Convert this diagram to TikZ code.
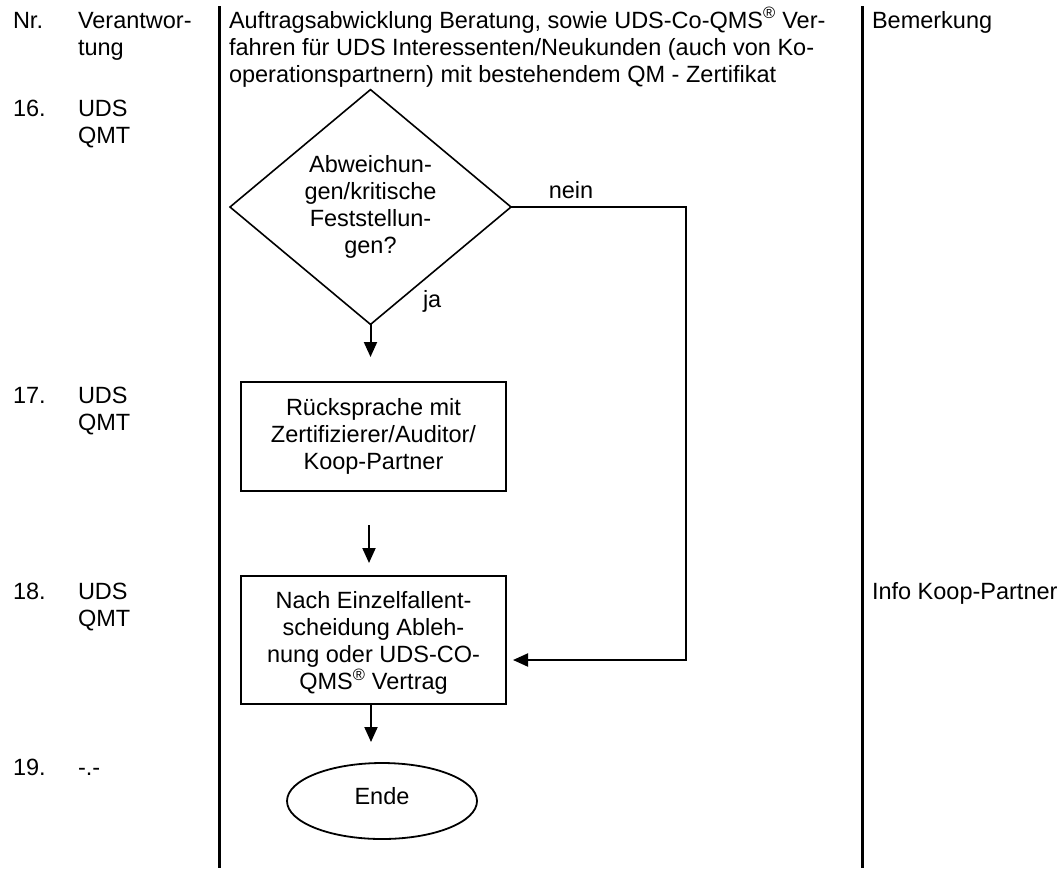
\documentclass[tikz,border=0pt]{standalone}
\usepackage{fontspec}
\setmainfont{Liberation Sans}
\usetikzlibrary{shapes.geometric,arrows.meta}
\tikzset{
  txt/.style={inner sep=0pt, outer sep=0pt, font=\fontsize{23.5}{27}\selectfont},
  colline/.style={line width=3pt},
  box/.style={draw, line width=2.2pt, rectangle, inner sep=0pt},
  decision/.style={draw, line width=1.6pt, diamond, inner sep=0pt, txt, align=center},
  terminal/.style={draw, line width=1.8pt, ellipse, inner sep=0pt, txt},
  arr/.style={line width=2pt, -{Triangle[length=15pt,width=13pt]}},
  conn/.style={line width=2pt}
}
\newcommand{\topstrut}{\rule{0pt}{22pt}}
\begin{document}
\begin{tikzpicture}[x=1pt,y=-1pt]
\useasboundingbox (0,0) rectangle (1064,868);
\fill[white] (0,0) rectangle (1064,868);

% column lines
\draw[colline] (219,6) -- (219,868);
\draw[colline] (862,6) -- (862,868);

% header
\node[txt, anchor=base west] (nr) at (13,28) {Nr.};
\node[txt, anchor=north west, align=left] (verant) at (78,6) {\topstrut Verantwor-\\tung};
\node[txt, anchor=north west, align=left] (title) at (229,6) {\topstrut Auftragsabwicklung Beratung, sowie UDS-Co-QMS\textsuperscript{®} Ver-\\fahren für UDS Interessenten/Neukunden (auch von Ko-\\operationspartnern) mit bestehendem QM - Zertifikat};
\node[txt, anchor=base west] (bem) at (872,28) {Bemerkung};

% rows
\node[txt, anchor=base west] (n16) at (13,116) {16.};
\node[txt, anchor=north west, align=left] (v16) at (78,94) {\topstrut UDS\\QMT};
\node[txt, anchor=base west] (n17) at (13,403) {17.};
\node[txt, anchor=north west, align=left] (v17) at (78,381) {\topstrut UDS\\QMT};
\node[txt, anchor=base west] (n18) at (13,599) {18.};
\node[txt, anchor=north west, align=left] (v18) at (78,577) {\topstrut UDS\\QMT};
\node[txt, anchor=base west] (info) at (872,599) {Info Koop-Partner};
\node[txt, anchor=base west] (n19) at (13,775) {19.};
\node[txt, anchor=base west] (v19) at (78,775) {-.-};

% flow shapes
\node[decision, minimum width=281pt, minimum height=224pt] (dia) at (370.5,207) {Abweichun-\\gen/kritische\\Feststellun-\\gen?};
\node[box, txt, align=center, minimum width=265pt, minimum height=109pt] (box2) at (373.5,436.5) {Rücksprache mit\\Zertifizierer/Auditor/\\Koop-Partner};
\node[box, minimum width=265pt, minimum height=128pt] (box3) at (373.5,640) {};
\begin{scope}
  \clip (241,576) rectangle (506,693);
  \node[txt, align=center] (box3text) at (373.5,642.5) {Nach Einzelfallent-\\scheidung Ableh-\\nung oder UDS-CO-\\QMS\textsuperscript{®} Vertrag};
\end{scope}
\node[terminal, minimum width=190pt, minimum height=76pt, text height=17pt, text depth=11pt] (ende) at (382,801) {Ende};

% connector end points
\coordinate (a1) at (370.5,357);
\coordinate (b1) at (369,525);
\coordinate (b2) at (369,563);
\coordinate (a3) at (371,742);
\coordinate (c1) at (686,207);
\coordinate (c2) at (686,660);
\coordinate (a4) at (513,660);

% connectors
\draw[arr] (dia.south) -- (a1);
\draw[arr] (b1) -- (b2);
\draw[arr] (box3.south -| a3) -- (a3);
\draw[arr] (dia.east) -- (c1) -- (c2) -- (a4);

% labels
\node[txt, anchor=base] (nein) at (571,198) {nein};
\node[txt, anchor=base west] (ja) at (423,307) {ja};
\end{tikzpicture}
\end{document}
